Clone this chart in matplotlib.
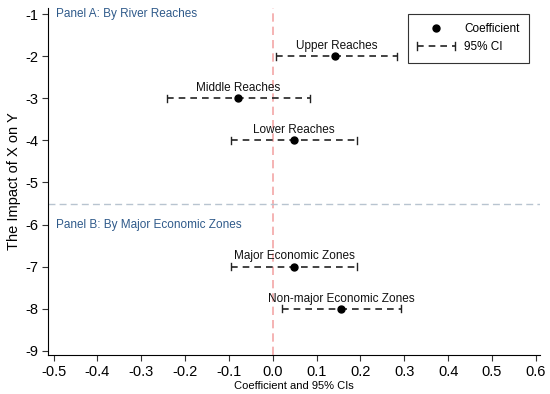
import matplotlib
matplotlib.use("Agg")
import matplotlib.pyplot as plt
from matplotlib.lines import Line2D
from matplotlib.legend_handler import HandlerBase

plt.rcParams['font.family'] = ['Liberation Sans', 'DejaVu Sans']
plt.rcParams['axes.unicode_minus'] = False

labels = ["Upper Reaches", "Middle Reaches", "Lower Reaches",
          "Major Economic Zones", "Non-major Economic Zones"]
ypos = [-2, -3, -4, -7, -8]
coef = [0.143, -0.079, 0.048, 0.048, 0.156]
lo = [0.007, -0.242, -0.095, -0.095, 0.020]
hi = [0.283, 0.084, 0.192, 0.192, 0.292]
xticks = [-0.5, -0.4, -0.3, -0.2, -0.1, 0.0, 0.1, 0.2, 0.3, 0.4, 0.5, 0.6]
yticks = [-1, -2, -3, -4, -5, -6, -7, -8, -9]

DASH = (0, (4, 3))


class CapHandler(HandlerBase):
    def create_artists(self, legend, orig, xdescent, ydescent, width, height, fontsize, trans):
        y = (height - ydescent) / 2
        x0, x1 = -xdescent, width - xdescent
        ln = Line2D([x0, x1], [y, y], color='#222222', ls=DASH, lw=1.2)
        c1 = Line2D([x0, x0], [y - 3, y + 3], color='#222222', lw=1.0)
        c2 = Line2D([x1, x1], [y - 3, y + 3], color='#222222', lw=1.0)
        for a in (ln, c1, c2):
            a.set_transform(trans)
        return [ln, c1, c2]


fig = plt.figure(figsize=(5.5, 3.94), dpi=100)
ax = fig.add_axes([0.088, 0.099, 0.894, 0.881])

ax.axvline(0, color='#f4a7a7', ls=(0, (5, 3)), lw=1.2, zorder=1)
ax.axhline(-5.5, color='#b8c4d0', ls=(0, (5, 3)), lw=1.0, zorder=1)

for y, c, l, h, lab in zip(ypos, coef, lo, hi, labels):
    ax.plot([l, h], [y, y], color='#222222', ls=DASH, lw=1.2, zorder=2)
    ax.plot([l, l], [y - 0.08, y + 0.08], color='#222222', lw=1.0, zorder=2)
    ax.plot([h, h], [y - 0.08, y + 0.08], color='#222222', lw=1.0, zorder=2)
    ax.plot([c], [y], 'o', color='black', ms=5, zorder=3)
    ax.text((l + h) / 2, y + 0.1, lab, ha='center', va='bottom', fontsize=8.5, color='#111111')

ax.text(-0.495, -1.0, "Panel A: By River Reaches", color='#2f5a8a', fontsize=8.5, va='center', ha='left')
ax.text(-0.495, -6.0, "Panel B: By Major Economic Zones", color='#2f5a8a', fontsize=8.5, va='center', ha='left')

ax.set_xlim(-0.512, 0.61)
ax.set_ylim(-9.1, -0.85)
ax.set_xticks(xticks)
ax.set_xticklabels([f"{v:.1f}" for v in xticks])
ax.set_yticks(yticks)
ax.tick_params(labelsize=10.5, length=4, color='#333333')
ax.spines['top'].set_visible(False)
ax.spines['right'].set_visible(False)
ax.set_xlabel("Coefficient and 95% CIs", fontsize=8, labelpad=1)
ax.set_ylabel("The Impact of X on Y", fontsize=10.5, labelpad=3)

h1 = Line2D([], [], marker='o', color='black', ls='none', ms=5)
h2 = Line2D([], [])
leg = ax.legend([h1, h2], ["Coefficient", "95% CI"], loc='upper right', fontsize=8.5,
                frameon=True, fancybox=False, edgecolor='#333333', framealpha=1,
                handlelength=3.2, borderpad=0.8, bbox_to_anchor=(0.99, 1.0),
                handler_map={h2: CapHandler()})
leg.get_frame().set_linewidth(0.8)

fig.savefig("out.png", dpi=100)
